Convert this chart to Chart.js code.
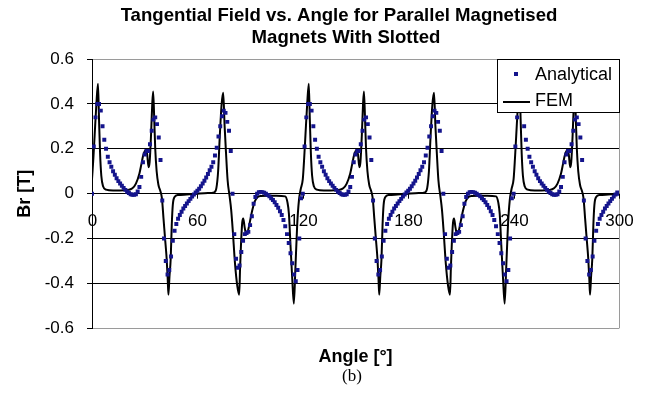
<!DOCTYPE html>
<html>
<head>
<meta charset="utf-8">
<script src="https://cdn.jsdelivr.net/npm/chart.js@4"></script>
<style>
  html, body { margin: 0; padding: 0; background: #ffffff; }
  #wrap { width: 646px; height: 393px; }
</style>
</head>
<body>
<div id="wrap"><canvas id="chart" width="646" height="393"></canvas></div>
<script>
// Chart text
const titleLines = ['Tangential Field vs. Angle for Parallel Magnetised', 'Magnets With Slotted'];
const xAxisTitle = 'Angle [°]';
const yAxisTitle = 'Br [T]';
const captionText = '(b)';
const seriesNames = ['Analytical', 'FEM'];

// Axis ranges and tick spacing
const angleRange = [0, 300];
const angleTickStep = 60;
const fieldRange = [-0.6, 0.6];
const fieldTickStep = 0.2;

// Analytical solution, one value per degree from 0° to 300°
const analyticalStepDeg = 1;
const analyticalBr = [
  0.00, 0.21, 0.34, 0.40, 0.40, 0.37, 0.30, 0.24, 0.20, 0.165,
  0.14, 0.12, 0.10, 0.084, 0.069, 0.056, 0.045, 0.035, 0.026, 0.017,
  0.009, 0.003, -0.002, -0.005, -0.005, -0.002, 0.01, 0.03, 0.075, 0.14,
  0.175, 0.19, 0.19, 0.22, 0.28, 0.33, 0.34, 0.31, 0.25, 0.15,
  -0.03, -0.20, -0.30, -0.36, -0.34, -0.28, -0.21, -0.165, -0.135, -0.112,
  -0.095, -0.08, -0.066, -0.055, -0.044, -0.033, -0.023, -0.013, -0.004, 0.005,
  0.013, 0.022, 0.033, 0.045, 0.058, 0.072, 0.088, 0.104, 0.12, 0.14,
  0.17, 0.205, 0.255, 0.30, 0.345, 0.37, 0.36, 0.32, 0.28, 0.19,
  0.00, -0.18, -0.29, -0.33, -0.32, -0.26, -0.21, -0.18, -0.175, -0.17,
  -0.14, -0.10, -0.045, -0.015, 0.00, 0.006, 0.008, 0.007, 0.004, 0.00,
  -0.006, -0.012, -0.02, -0.028, -0.038, -0.05, -0.063, -0.078, -0.095, -0.117,
  -0.145, -0.18, -0.22, -0.265, -0.31, -0.36, -0.39, -0.34, -0.20, -0.02,
  0.00, 0.21, 0.34, 0.40, 0.40, 0.37, 0.30, 0.24, 0.20, 0.165,
  0.14, 0.12, 0.10, 0.084, 0.069, 0.056, 0.045, 0.035, 0.026, 0.017,
  0.009, 0.003, -0.002, -0.005, -0.005, -0.002, 0.01, 0.03, 0.075, 0.14,
  0.175, 0.19, 0.19, 0.22, 0.28, 0.33, 0.34, 0.31, 0.25, 0.15,
  -0.03, -0.20, -0.30, -0.36, -0.34, -0.28, -0.21, -0.165, -0.135, -0.112,
  -0.095, -0.08, -0.066, -0.055, -0.044, -0.033, -0.023, -0.013, -0.004, 0.005,
  0.013, 0.022, 0.033, 0.045, 0.058, 0.072, 0.088, 0.104, 0.12, 0.14,
  0.17, 0.205, 0.255, 0.30, 0.345, 0.37, 0.36, 0.32, 0.28, 0.19,
  0.00, -0.18, -0.29, -0.33, -0.32, -0.26, -0.21, -0.18, -0.175, -0.17,
  -0.14, -0.10, -0.045, -0.015, 0.00, 0.006, 0.008, 0.007, 0.004, 0.00,
  -0.006, -0.012, -0.02, -0.028, -0.038, -0.05, -0.063, -0.078, -0.095, -0.117,
  -0.145, -0.18, -0.22, -0.265, -0.31, -0.36, -0.39, -0.34, -0.20, -0.02,
  0.00, 0.21, 0.34, 0.40, 0.40, 0.37, 0.30, 0.24, 0.20, 0.165,
  0.14, 0.12, 0.10, 0.084, 0.069, 0.056, 0.045, 0.035, 0.026, 0.017,
  0.009, 0.003, -0.002, -0.005, -0.005, -0.002, 0.01, 0.03, 0.075, 0.14,
  0.175, 0.19, 0.19, 0.22, 0.28, 0.33, 0.34, 0.31, 0.25, 0.15,
  -0.03, -0.20, -0.30, -0.36, -0.34, -0.28, -0.21, -0.165, -0.135, -0.112,
  -0.095, -0.08, -0.066, -0.055, -0.044, -0.033, -0.023, -0.013, -0.004, 0.005,
  0.00
];

// FEM solution, sampled more finely around the peaks
const femAngleDeg = [
  0, 0.8, 1.5, 2.5, 3.4, 4.0, 4.6, 5.3, 6.3, 8,
  12, 16, 20, 23, 25, 27, 28.2, 29.2, 30.4, 31.4,
  32.2, 32.8, 33.6, 34.3, 34.8, 35.4, 36, 36.8, 37.8, 39,
  39.8, 40.7, 41.6, 42.5, 43.1, 43.5, 44.1, 44.8, 45.4, 46,
  47, 49, 54, 60, 66, 69.5, 70.8, 71.8, 72.7, 73.8,
  74.7, 75.5, 76.3, 77.2, 78.3, 79.2, 80.1, 81.4, 82.7, 83.8,
  84.3, 84.8, 85.5, 86.1, 86.9, 87.8, 88.8, 90, 91.2, 92.6,
  94.3, 96, 100, 105, 110, 111.3, 112.1, 113, 114, 114.9,
  115.8, 116.8, 117.8, 118.8,
  120, 120.8, 121.5, 122.5, 123.4, 124, 124.6, 125.3, 126.3, 128,
  132, 136, 140, 143, 145, 147, 148.2, 149.2, 150.4, 151.4,
  152.2, 152.8, 153.6, 154.3, 154.8, 155.4, 156, 156.8, 157.8, 159,
  159.8, 160.7, 161.6, 162.5, 163.1, 163.5, 164.1, 164.8, 165.4, 166,
  167, 169, 174, 180, 186, 189.5, 190.8, 191.8, 192.7, 193.8,
  194.7, 195.5, 196.3, 197.2, 198.3, 199.2, 200.1, 201.4, 202.7, 203.8,
  204.3, 204.8, 205.5, 206.1, 206.9, 207.8, 208.8, 210, 211.2, 212.6,
  214.3, 216, 220, 225, 230, 231.3, 232.1, 233, 234, 234.9,
  235.8, 236.8, 237.8, 238.8,
  240, 240.8, 241.5, 242.5, 243.4, 244, 244.6, 245.3, 246.3, 248,
  252, 256, 260, 263, 265, 267, 268.2, 269.2, 270.4, 271.4,
  272.2, 272.8, 273.6, 274.3, 274.8, 275.4, 276, 276.8, 277.8, 279,
  279.8, 280.7, 281.6, 282.5, 283.1, 283.5, 284.1, 284.8, 285.4, 286,
  287, 289, 294, 300
];
const femBr = [
  0.065, 0.16, 0.26, 0.40, 0.49, 0.33, 0.18, 0.08, 0.033, 0.018,
  0.014, 0.014, 0.016, 0.024, 0.045, 0.09, 0.135, 0.172, 0.192, 0.175,
  0.118, 0.14, 0.26, 0.40, 0.455, 0.34, 0.20, 0.10, 0.04, 0.01,
  -0.02, -0.11, -0.20, -0.29, -0.38, -0.45, -0.37, -0.29, -0.14, -0.05,
  -0.015, -0.006, -0.004, 0.00, 0.003, 0.006, 0.025, 0.10, 0.25, 0.40,
  0.45, 0.30, 0.18, 0.06, -0.01, -0.07, -0.16, -0.31, -0.41, -0.45,
  -0.33, -0.23, -0.13, -0.11, -0.15, -0.18, -0.165, -0.12, -0.075, -0.035,
  -0.015, -0.01, -0.009, -0.009, -0.012, -0.04, -0.09, -0.23, -0.38, -0.49,
  -0.33, -0.14, -0.03, 0.02,
  0.065, 0.16, 0.26, 0.40, 0.49, 0.33, 0.18, 0.08, 0.033, 0.018,
  0.014, 0.014, 0.016, 0.024, 0.045, 0.09, 0.135, 0.172, 0.192, 0.175,
  0.118, 0.14, 0.26, 0.40, 0.455, 0.34, 0.20, 0.10, 0.04, 0.01,
  -0.02, -0.11, -0.20, -0.29, -0.38, -0.45, -0.37, -0.29, -0.14, -0.05,
  -0.015, -0.006, -0.004, 0.00, 0.003, 0.006, 0.025, 0.10, 0.25, 0.40,
  0.45, 0.30, 0.18, 0.06, -0.01, -0.07, -0.16, -0.31, -0.41, -0.45,
  -0.33, -0.23, -0.13, -0.11, -0.15, -0.18, -0.165, -0.12, -0.075, -0.035,
  -0.015, -0.01, -0.009, -0.009, -0.012, -0.04, -0.09, -0.23, -0.38, -0.49,
  -0.33, -0.14, -0.03, 0.02,
  0.065, 0.16, 0.26, 0.40, 0.49, 0.33, 0.18, 0.08, 0.033, 0.018,
  0.014, 0.014, 0.016, 0.024, 0.045, 0.09, 0.135, 0.172, 0.192, 0.175,
  0.118, 0.14, 0.26, 0.40, 0.455, 0.34, 0.20, 0.10, 0.04, 0.01,
  -0.02, -0.11, -0.20, -0.29, -0.38, -0.45, -0.37, -0.29, -0.14, -0.05,
  -0.015, -0.006, -0.004, 0.00
];

const SANS = "'Liberation Sans', Arial, sans-serif";
const SERIF = "'Liberation Serif', 'Times New Roman', serif";
const analyticalColor = '#14148c';

const analyticalPoints = analyticalBr.map((v, i) => ({ x: i * analyticalStepDeg, y: v }));
const femPoints = femAngleDeg.map((a, i) => ({ x: a, y: femBr[i] }));

function fmtField(v) {
  const r = Math.round(v * 10) / 10;
  return r === 0 ? '0' : String(r);
}

// Extra drawing: angle labels on the zero line, frame edge, legend box, titles
const decorations = {
  id: 'decorations',
  beforeDatasetsDraw(chart) {
    const { ctx, chartArea, scales } = chart;
    const xs = scales.x, ys = scales.y;
    const y0 = ys.getPixelForValue(0);
    ctx.save();
    // right edge of the plot frame
    ctx.strokeStyle = '#9a9a9a';
    ctx.lineWidth = 1;
    ctx.beginPath();
    ctx.moveTo(Math.round(chartArea.right) + 0.5, chartArea.top);
    ctx.lineTo(Math.round(chartArea.right) + 0.5, chartArea.bottom);
    ctx.stroke();
    // tick marks and labels of the angle axis, which crosses at Br = 0
    ctx.strokeStyle = '#000';
    ctx.fillStyle = '#000';
    ctx.font = '17px ' + SANS;
    ctx.textAlign = 'center';
    ctx.textBaseline = 'middle';
    xs.ticks.forEach(t => {
      const px = Math.round(xs.getPixelForValue(t.value)) + 0.5;
      ctx.beginPath();
      ctx.moveTo(px, y0);
      ctx.lineTo(px, y0 + 5);
      ctx.stroke();
      ctx.fillText(String(t.value), px, y0 + 28);
    });
    ctx.restore();
  },
  afterDraw(chart) {
    const { ctx, chartArea } = chart;
    ctx.save();
    // chart title
    ctx.fillStyle = '#000';
    ctx.font = 'bold 18.6px ' + SANS;
    ctx.textAlign = 'center';
    ctx.textBaseline = 'middle';
    ctx.fillText(titleLines[0], 339, 16);
    ctx.fillText(titleLines[1], 346, 38);
    // caption below the axis title
    ctx.font = '17px ' + SERIF;
    ctx.fillText(captionText, 352, 377);
    // legend box in the upper right corner of the plot
    const bw = 122, bh = 53;
    const bx = Math.round(chartArea.right) - bw, by = Math.round(chartArea.top);
    ctx.fillStyle = '#fff';
    ctx.fillRect(bx, by, bw, bh);
    ctx.strokeStyle = '#000';
    ctx.lineWidth = 1;
    ctx.strokeRect(bx + 0.5, by + 0.5, bw, bh);
    const ds = chart.data.datasets;
    ctx.font = '18px ' + SANS;
    ctx.textAlign = 'left';
    ctx.fillStyle = ds[0].pointBackgroundColor;
    ctx.fillRect(bx + 17, by + 13, 4, 4);
    ctx.fillStyle = '#000';
    ctx.fillText(ds[0].label, bx + 38, by + 16);
    ctx.strokeStyle = ds[1].borderColor;
    ctx.lineWidth = ds[1].borderWidth;
    ctx.beginPath();
    ctx.moveTo(bx + 6, by + 43);
    ctx.lineTo(bx + 33, by + 43);
    ctx.stroke();
    ctx.fillText(ds[1].label, bx + 38, by + 42);
    ctx.restore();
  }
};

new Chart(document.getElementById('chart'), {
  type: 'scatter',
  data: {
    datasets: [
      {
        label: seriesNames[0],
        data: analyticalPoints,
        showLine: false,
        pointStyle: 'rect',
        pointRadius: 2.8,
        pointBorderWidth: 0,
        pointBackgroundColor: analyticalColor,
        backgroundColor: analyticalColor,
        order: 0
      },
      {
        label: seriesNames[1],
        data: femPoints,
        showLine: true,
        borderColor: '#000000',
        borderWidth: 2,
        pointRadius: 0,
        cubicInterpolationMode: 'monotone',
        fill: false,
        order: 1
      }
    ]
  },
  options: {
    responsive: false,
    animation: false,
    devicePixelRatio: 1,
    layout: { padding: { top: 59, right: 27, bottom: 25, left: 8 } },
    plugins: {
      legend: { display: false },
      title: { display: false },
      tooltip: { enabled: false }
    },
    scales: {
      x: {
        type: 'linear',
        min: angleRange[0],
        max: angleRange[1],
        ticks: { display: false, stepSize: angleTickStep },
        grid: { display: false, drawTicks: false },
        border: { display: false },
        title: {
          display: true,
          text: xAxisTitle,
          color: '#000',
          font: { family: SANS, size: 18, weight: 'bold' },
          padding: { top: 18, bottom: 0 }
        }
      },
      y: {
        min: fieldRange[0],
        max: fieldRange[1],
        ticks: {
          stepSize: fieldTickStep,
          color: '#000',
          font: { family: SANS, size: 17 },
          padding: 13,
          callback: v => fmtField(v)
        },
        grid: {
          color: c => (Math.abs(Math.abs(c.tick.value) - 0.6) < 1e-6 ? '#9a9a9a' : '#000'),
          tickColor: '#000',
          tickLength: 5,
          lineWidth: 1
        },
        border: { color: '#000', width: 1 },
        title: {
          display: true,
          text: yAxisTitle,
          color: '#000',
          font: { family: SANS, size: 18, weight: 'bold' },
          padding: { top: 6, bottom: 0 }
        },
        afterFit(scale) { scale.width = 84; }
      }
    }
  },
  plugins: [decorations]
});
</script>
</body>
</html>
